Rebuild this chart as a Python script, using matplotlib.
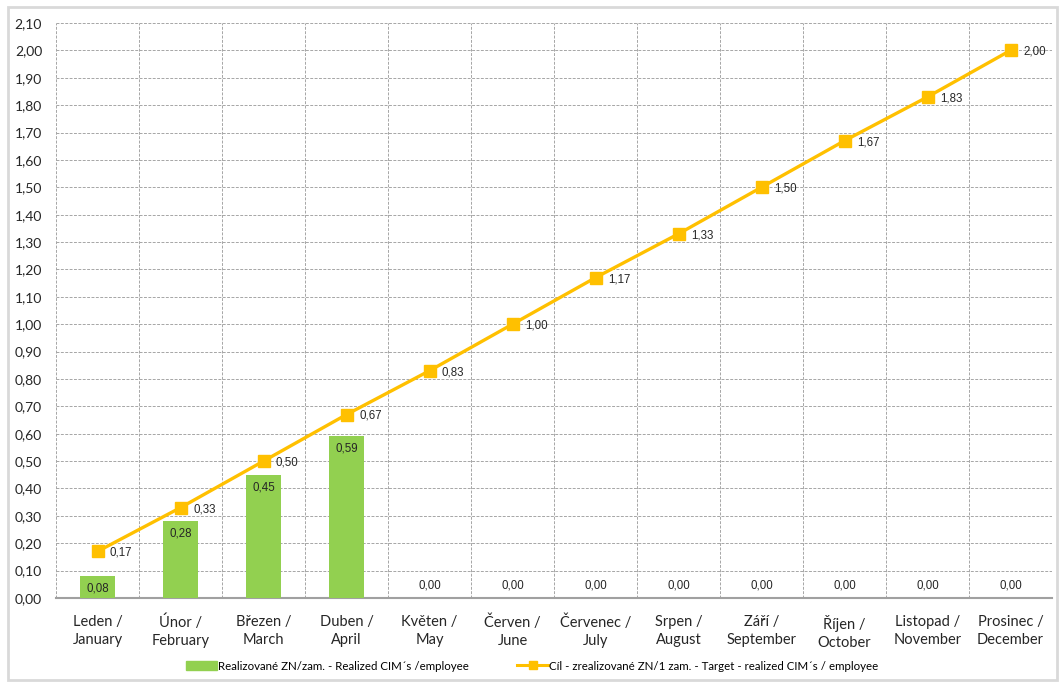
import numpy as np
import matplotlib.pyplot as plt
from matplotlib.patches import Rectangle
from matplotlib.lines import Line2D

# monthly values: realized CIMs per employee and the target line
months = ["Leden /\nJanuary", "Únor /\nFebruary", "Březen /\nMarch", "Duben /\nApril",
          "Květen /\nMay", "Červen /\nJune", "Červenec /\nJuly", "Srpen /\nAugust",
          "Září /\nSeptember", "Říjen /\nOctober", "Listopad /\nNovember", "Prosinec /\nDecember"]
realized = [0.08, 0.28, 0.45, 0.59, 0.00, 0.00, 0.00, 0.00, 0.00, 0.00, 0.00, 0.00]
target = [0.17, 0.33, 0.50, 0.67, 0.83, 1.00, 1.17, 1.33, 1.50, 1.67, 1.83, 2.00]

bar_label = "Realizované ZN/zam. - Realized CIM´s /employee"
line_label = "Cíl - zrealizované ZN/1 zam. - Target - realized CIM´s / employee"

GREEN = "#92D050"
GOLD = "#FFC000"
GRID = "#a6a6a6"
TXT = "#262626"

def fmt(v):
    return ("%.2f" % v).replace(".", ",")

fig = plt.figure(figsize=(10.6, 6.83), dpi=100)
ax = fig.add_axes([56/1060, 1-598/683, (1052-56)/1060, (598-23)/683])

x = np.arange(len(months))
ax.bar(x, realized, width=0.41, color=GREEN, zorder=3)
ax.plot(x, target, color=GOLD, lw=2.4, marker="s", ms=8, zorder=4)

for xi, v in zip(x, realized):
    dy = -9 if v > 0 else 9
    ax.annotate(fmt(v), (xi, v), xytext=(0, dy), textcoords="offset points",
                ha="center", va="center", fontsize=8.3, color=TXT,
                family="Liberation Sans", zorder=5)
for xi, v in zip(x, target):
    ax.annotate(fmt(v), (xi, v), xytext=(9, -1), textcoords="offset points",
                ha="left", va="center", fontsize=8.3, color=TXT,
                family="Liberation Sans", zorder=5)

ax.set_xlim(-0.5, len(months) - 0.5)
ax.set_ylim(0, 2.1)
yt = np.round(np.arange(0, 2.11, 0.1), 2)
ax.set_yticks(yt)
ax.set_yticklabels([fmt(v) for v in yt], family="Lato", fontsize=10, color=TXT)
ax.set_xticks(x)
ax.set_xticklabels(months, family="Lato", fontsize=10.5, color=TXT, linespacing=1.35)
ax.tick_params(length=0)
ax.tick_params(axis="x", pad=12)
ax.tick_params(axis="y", pad=10)

# dashed grid: horizontal at every tick, vertical between months
for v in yt[1:]:
    ax.axhline(v, color=GRID, lw=0.7, ls=(0, (3, 1.5)), zorder=1)
for b in np.arange(-0.5, len(months), 1.0):
    ax.axvline(b, color=GRID, lw=0.7, ls=(0, (3, 1.5)), zorder=1)
for s in ["top", "right", "left"]:
    ax.spines[s].set_visible(False)
ax.spines["bottom"].set_color("#a0a0a0")
ax.spines["bottom"].set_linewidth(1.5)

# legend below the axis
h1 = Rectangle((0, 0), 1, 1, color=GREEN)
h2 = Line2D([], [], color=GOLD, lw=2.2, marker="s", ms=6)
fig.legend([h1, h2], [bar_label, line_label], loc="center", ncol=2,
           bbox_to_anchor=(0.502, 1-666/683), frameon=False,
           prop={"family": "Lato", "size": 8.3}, handlelength=2.7, handleheight=0.7,
           handletextpad=0.1, columnspacing=4.2)

# light frame around the whole chart
fig.patches.append(Rectangle((8/1060, 3/683), 1049/1060, 673/683, transform=fig.transFigure,
                             fill=False, edgecolor="#d9d9d9", lw=2))

fig.savefig("out.png", dpi=100)
